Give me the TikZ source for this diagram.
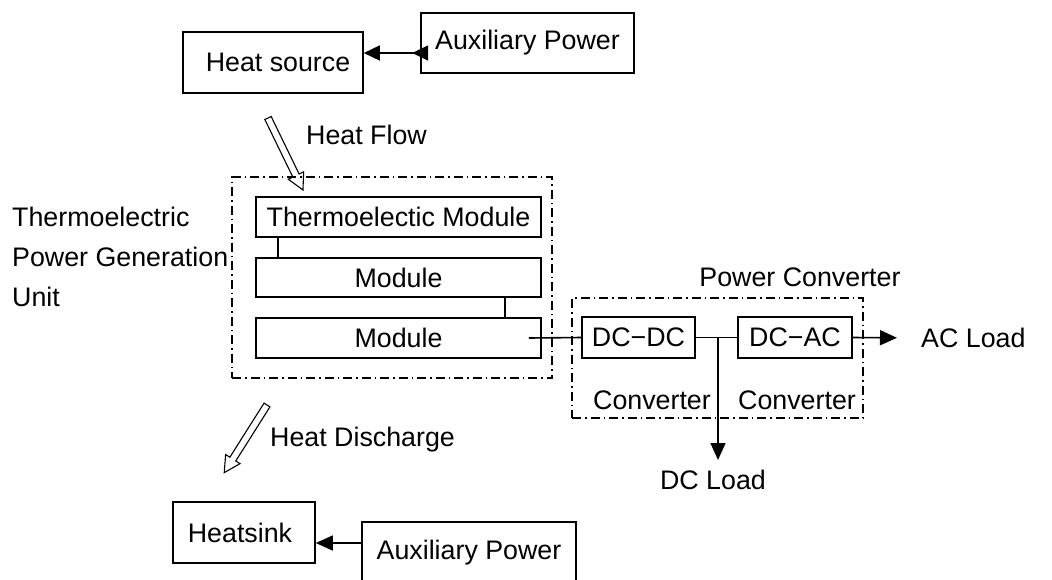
\documentclass[tikz,border=0pt]{standalone}
\usepackage{fontspec}
\setmainfont{Liberation Sans}
\usetikzlibrary{arrows.meta,calc}
\begin{document}
\begin{tikzpicture}[x=1pt,y=-1pt,
  txt/.style={font=\fontsize{26.8}{40}\selectfont},
  box/.style={draw, line width=1.6pt, inner sep=0pt, txt},
  group/.style={draw, line width=1.4pt, dash pattern=on 9pt off 4pt on 1.5pt off 4pt},
  lbl/.style={txt, inner sep=0pt},
  conn/.style={line width=1.6pt},
  tip/.style={Triangle[length=17pt,width=15pt]},
  arr/.style={conn, -{Triangle[length=17pt,width=15pt]}},
  hollow/.style={draw, line width=1.1pt, fill=white, line join=miter}
]
\useasboundingbox (0,0) rectangle (1052,579);
\clip (0,0) rectangle (1052,579);

% top
\node[box, minimum width=180pt, minimum height=61pt] (hs) at (273,62.5) {\raisebox{-3pt}{\hspace*{10pt}Heat source}};
\node[box, minimum width=213pt, minimum height=60pt] (auxt) at (527.5,43) {\raisebox{-4pt}{Auxiliary Power}};
\coordinate (auxtp) at ([xshift=8pt,yshift=-10pt]auxt.west);
\draw[conn, {Triangle[length=16pt,width=15pt,reversed]}-{Triangle[length=16pt,width=15pt]}]
  (auxtp) -- (hs.east |- auxtp);

% heat flow arrow
\draw[hollow, shift={(268,118)}, rotate=-64.07]
  (0,3.5) -- (64,3.5) -- (64,8.5) -- (80,0) -- (64,-8.5) -- (64,-3.5) -- (0,-3.5) -- cycle;
\node[lbl, anchor=west] (hf) at (306,135) {Heat Flow};

% thermoelectric unit
\node[group, minimum width=320pt, minimum height=201pt, inner sep=0pt] (teg) at (392,277.5) {};
\node[lbl, anchor=west, align=left] (teglbl) at (12,257) {Thermoelectric\\Power Generation\\Unit};
\node[box, minimum width=285pt, minimum height=40pt] (tm) at (398.5,217) {Thermoelectic Module};
\node[box, minimum width=285pt, minimum height=39pt] (m2) at (398.5,277.5) {Module};
\node[box, minimum width=285pt, minimum height=40pt] (m3) at (398.5,338) {Module};
\draw[conn] ([xshift=23pt]tm.south west) -- ([xshift=23pt]m2.north west);
\draw[conn] ([xshift=-37pt]m2.south east) -- ([xshift=-37pt]m3.north east);

% power converter
\node[group, minimum width=291pt, minimum height=120pt, inner sep=0pt] (pc) at (717.5,358) {};
\node[lbl] (pclbl) at (800,277) {Power Converter};
\node[box, minimum width=113pt, minimum height=41pt] (dcdc) at (638.5,337.5) {DC−DC};
\node[box, minimum width=114pt, minimum height=41pt] (dcac) at (795,337.5) {DC−AC};
\node[lbl] (conv1) at (652,400) {Converter};
\node[lbl] (conv2) at (797,400) {Converter};
\draw[conn] ([xshift=-13pt]m3.east) -- (dcdc.west);
\draw[conn] (dcdc.east) -- (dcac.west);
\coordinate (j) at (718,337.5);
\node[lbl, anchor=north] (dcload) at (713,470) {DC Load};
\draw[arr, shorten >=10pt] (j) -- (j |- dcload.north);
\node[lbl, anchor=west] (acload) at (921,338) {AC Load};
\draw[arr, shorten >=24pt] (dcac.east) -- (acload.west);

% heat discharge arrow
\draw[hollow, shift={(267,405)}, rotate=-122.3]
  (0,3.5) -- (64,3.5) -- (64,8.5) -- (80,0) -- (64,-8.5) -- (64,-3.5) -- (0,-3.5) -- cycle;
\node[lbl, anchor=west] (hd) at (270,440) {Heat Discharge};

% bottom
\node[box, minimum width=142pt, minimum height=61pt] (hsk) at (244,532.5) {\hspace*{-8pt}Heatsink};
\node[box, minimum width=214pt, minimum height=61pt] (auxb) at (469,552.5) {Auxiliary Power};
\coordinate (auxbp) at ([yshift=9.5pt]auxb.west);
\draw[arr] (auxbp) -- (hsk.east |- auxbp);
\end{tikzpicture}
\end{document}
